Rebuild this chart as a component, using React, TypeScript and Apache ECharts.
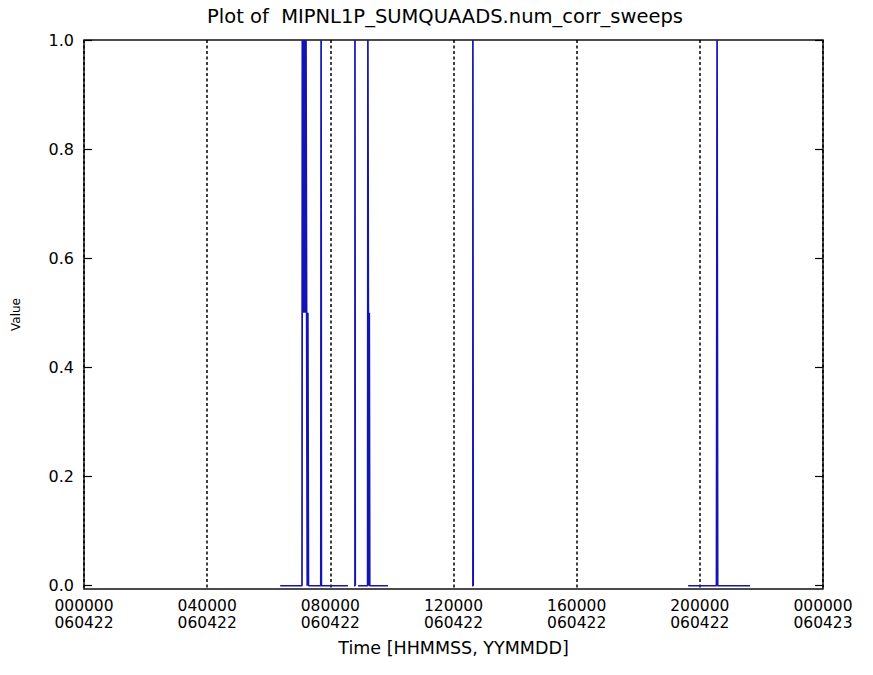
import React, { useEffect, useRef } from "react";
import * as echarts from "echarts";

// Tick labels of the time axis (hours since 000000 on 060422)
const tickHours = [0, 4, 8, 12, 16, 20, 24];
const tickTimes = ["000000", "040000", "080000", "120000", "160000", "200000", "000000"];
const tickDates = ["060422", "060422", "060422", "060422", "060422", "060422", "060423"];
const yTicks = [0, 0.2, 0.4, 0.6, 0.8, 1.0];

// Data segments: [hour of day, value]
const segA: [number, number][] = [
  [6.37, 0], [7.08, 0], [7.09, 1], [7.11, 0.5], [7.13, 1], [7.15, 0.5], [7.17, 1],
  [7.19, 0.5], [7.21, 1], [7.23, 0.5], [7.25, 0], [7.27, 0.5], [7.29, 0],
  [7.69, 0], [7.7, 1], [7.71, 0], [8.57, 0],
];
const segSpike1: [number, number][] = [[8.77, 0], [8.8, 0], [8.8, 1], [8.81, 0]];
const segB: [number, number][] = [
  [8.9, 0], [9.21, 0], [9.22, 1], [9.235, 0.5], [9.25, 0], [9.265, 0.5], [9.28, 0], [9.87, 0],
];
const segSpike2: [number, number][] = [[12.6, 0], [12.63, 0], [12.63, 1], [12.64, 0]];
const segC: [number, number][] = [[19.62, 0], [20.54, 0], [20.56, 1], [20.58, 0], [21.63, 0]];

const segments = [segA, segSpike1, segB, segSpike2, segC];

const FONT = "DejaVu Sans";

export default function App() {
  const ref = useRef<HTMLDivElement>(null);
  useEffect(() => {
    if (!ref.current) return;
    const chart = echarts.init(ref.current, null, { renderer: "svg" });
    const labelFor = (v: number) => {
      const i = tickHours.indexOf(v);
      if (i < 0) return "";
      return tickTimes[i] + "\n" + tickDates[i];
    };
    chart.setOption({
      animation: false,
      backgroundColor: "#ffffff",
      title: {
        text: "Plot of  MIPNL1P_SUMQUAADS.num_corr_sweeps",
        left: 440,
        textAlign: "center",
        top: 1,
        textStyle: { fontFamily: FONT, fontSize: 19.5, fontWeight: "normal", color: "#000" },
      },
      grid: {
        left: 84,
        right: 50,
        top: 40,
        bottom: 86,
        show: true,
        borderColor: "#111",
        borderWidth: 1.5,
        backgroundColor: "transparent",
      },
      xAxis: {
        type: "value",
        min: 0,
        max: 24,
        interval: 4,
        name: "Time [HHMMSS, YYMMDD]",
        nameLocation: "middle",
        nameGap: 50,
        nameTextStyle: { fontFamily: FONT, fontSize: 17.5, color: "#000" },
        axisLine: { show: false, onZero: false },
        axisTick: { show: false },
        axisLabel: {
          formatter: labelFor,
          fontFamily: FONT,
          fontSize: 15.5,
          lineHeight: 17.5,
          color: "#000",
          margin: 8,
          showMinLabel: true,
          showMaxLabel: true,
        },
        splitLine: {
          show: true,
          lineStyle: { color: "#000", width: 1.5, type: [3, 2.5] },
        },
      },
      yAxis: [
        {
          type: "value",
          min: -0.006,
          max: 1,
          name: "Value",
          nameLocation: "middle",
          nameGap: 62,
          nameTextStyle: { fontFamily: FONT, fontSize: 12, color: "#000" },
          axisLine: { show: false },
          axisTick: {
            show: true,
            inside: true,
            length: 8,
            customValues: yTicks,
            lineStyle: { color: "#000", width: 1.2 },
          },
          axisLabel: {
            customValues: yTicks,
            formatter: (v: number) => v.toFixed(1),
            fontFamily: FONT,
            fontSize: 16,
            color: "#000",
            margin: 10,
          },
          splitLine: { show: false },
        },
        {
          type: "value",
          position: "right",
          min: -0.006,
          max: 1,
          axisLine: { show: false },
          axisTick: {
            show: true,
            inside: true,
            length: 8,
            customValues: yTicks,
            lineStyle: { color: "#000", width: 1.2 },
          },
          axisLabel: { show: false },
          splitLine: { show: false },
        },
      ],
      series: segments.map((seg) => ({
        type: "line",
        data: seg,
        showSymbol: false,
        symbol: "none",
        clip: false,
        z: 3,
        lineStyle: { color: "#1414b4", width: 1.7 },
      })),
    });
    return () => chart.dispose();
  }, []);
  return (
    <div
      ref={ref}
      style={{ position: "fixed", left: 0, top: 0, width: 873, height: 675 }}
    />
  );
}
